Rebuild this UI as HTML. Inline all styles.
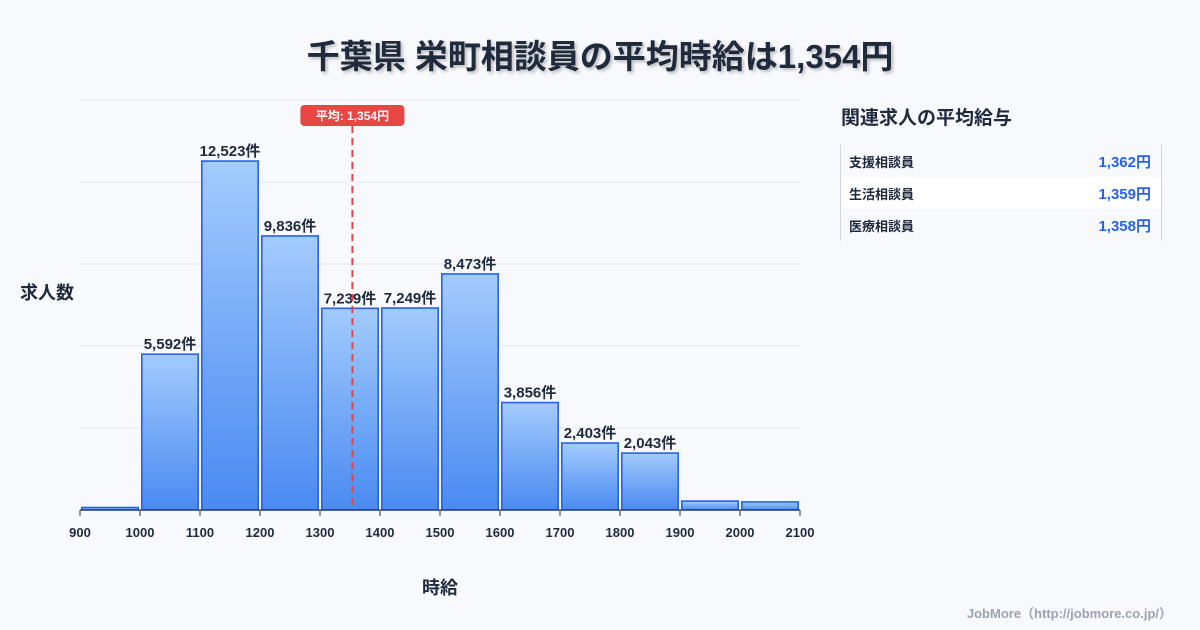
<!DOCTYPE html>
<html><head><meta charset="utf-8">
<style>
body{margin:0;width:1200px;height:630px;background:#f8f9fc;font-family:"Liberation Sans","Noto Sans CJK JP",sans-serif;overflow:hidden;position:relative}
.title{position:absolute;top:30px;left:0;width:1200px;text-align:center;font-size:33px;font-weight:bold;color:#1f2a3d;text-shadow:2px 2px 3px rgba(0,0,0,.25)}
.panel-title{position:absolute;left:841px;top:103px;font-size:19px;font-weight:bold;color:#1f2a3d}
.panel{position:absolute;left:840px;top:145px;width:320px;height:96px;border-left:1px solid #cfd6e0;border-right:1px solid #cfd6e0}
.row{height:32px;display:flex;justify-content:space-between;align-items:center;padding:0 10px 0 8px;font-size:13px;font-weight:bold;color:#1f2a3d}
.row.alt{background:#fff}
.row span:last-child{color:#2563eb;font-size:15px}
.foot{position:absolute;right:28px;top:603px;font-size:13px;color:#9aa3b0;font-weight:bold}
</style></head><body>
<div class="title">千葉県 栄町相談員の平均時給は1,354円</div>
<svg id="chart" width="820" height="630" style="position:absolute;left:0;top:0"></svg>
<div class="panel-title">関連求人の平均給与</div>
<div class="panel">
<div class="row"><span>支援相談員</span><span>1,362円</span></div>
<div class="row alt"><span>生活相談員</span><span>1,359円</span></div>
<div class="row"><span>医療相談員</span><span>1,358円</span></div>
</div>
<div class="foot">JobMore（http://jobmore.co.jp/）</div>
<script>
const binStarts=[900,1000,1100,1200,1300,1400,1500,1600,1700,1800,1900,2000];
const counts=[90,5592,12523,9836,7239,7249,8473,3856,2403,2043,320,290];
const showLabel=[false,true,true,true,true,true,true,true,true,true,false,false];
const xTicks=[900,1000,1100,1200,1300,1400,1500,1600,1700,1800,1900,2000,2100];
const meanVal=1354;
const NS="http://www.w3.org/2000/svg";
const svg=document.getElementById('chart');
const x0=80,x1=800,y0=510,yTop=100;
const xs=v=>x0+(v-900)/(2100-900)*(x1-x0);
const yMax=Math.max(...counts)*1.175;
const ys=v=>y0-v/yMax*(y0-yTop);
function mk(t,a,p){const e=document.createElementNS(NS,t);for(const k in a)e.setAttribute(k,a[k]);(p||svg).appendChild(e);return e;}
const defs=mk('defs',{});
const g=mk('linearGradient',{id:'bg',x1:0,y1:0,x2:0,y2:1},defs);
mk('stop',{offset:'0','stop-color':'#a3cbfd'},g);mk('stop',{offset:'1','stop-color':'#4a8af2'},g);
for(let i=0;i<=5;i++){const y=y0-i*(y0-yTop)/5;const l=mk('line',{x1:x0,x2:x1,y1:y,y2:y,stroke:'#e4e7ec','stroke-width':1});
}
binStarts.forEach((b,i)=>{
 const xa=xs(b)+1.8,xb=xs(b+100)-1.8,yt=ys(counts[i]);
 const r=mk('rect',{x:xa,y:yt,width:xb-xa,height:y0-yt,fill:'url(#bg)',stroke:'#2563eb','stroke-width':1.6});
 
 if(showLabel[i]){const t=mk('text',{x:(xa+xb)/2,y:yt-5,'text-anchor':'middle','font-size':15,'font-weight':'bold',fill:'#1f2a3d'});
 t.textContent=counts[i].toLocaleString('en-US')+'件';}
});
mk('line',{x1:x0,x2:x1,y1:y0,y2:y0,stroke:'#1f2a3d','stroke-width':1});
xTicks.forEach(v=>{const x=xs(v);mk('line',{x1:x,x2:x,y1:y0,y2:y0+6,stroke:'#1f2a3d'});
 const t=mk('text',{x:x,y:537,'text-anchor':'middle','font-size':13,'font-weight':'bold',fill:'#1f2a3d'});t.textContent=v;
 });
const mx=xs(meanVal);
const ml=mk('line',{x1:mx,x2:mx,y1:126,y2:y0,stroke:'#e04545','stroke-width':2,'stroke-dasharray':'7,5'});

const mb=mk('rect',{x:mx-52,y:105,width:104,height:21,rx:4,fill:'#e84545'});

const mt=mk('text',{x:mx,y:120,'text-anchor':'middle','font-size':12,'font-weight':'bold',fill:'#fff'});mt.textContent='平均: 1,354円';
const yt=mk('text',{x:20,y:299,'font-size':18,'font-weight':'bold',fill:'#1f2a3d'});yt.textContent='求人数';

const xt=mk('text',{x:440,y:594,'text-anchor':'middle','font-size':18,'font-weight':'bold',fill:'#1f2a3d'});xt.textContent='時給';

</script>
</body></html>
